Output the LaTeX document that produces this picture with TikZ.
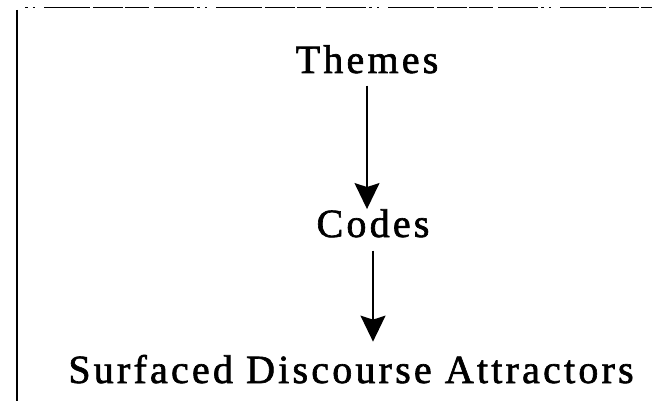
\documentclass[tikz,border=0pt]{standalone}
\usepackage{fontspec}
\setmainfont{Liberation Serif}[LetterSpace=8, FakeBold=1.6]
\usetikzlibrary{arrows.meta}

\begin{document}
\begin{tikzpicture}
% Coding levels: themes, codes, attractors
\def\pxsz{1pt}
\providecommand{\flowLineWidth}{1.4pt}
\providecommand{\frameLineWidth}{1.1pt}
\tikzset{
  level text/.style={font=\fontsize{40}{44}\selectfont, inner sep=0pt, anchor=base},
  flow arrow/.style={line width=\flowLineWidth, -{Stealth[length=26pt, width=25pt, inset=4pt]}},
  broken edge/.style={line width=0.9pt, dash pattern=on 3pt off 5pt on 2pt off 9pt on 46pt off 3pt on 30pt off 2pt on 24pt off 5pt on 40pt off 3pt}
}
\begin{scope}[x=\pxsz, y=\pxsz]
  \useasboundingbox (0,0) rectangle (652,-401);
  % Frame: left edge and broken top edge
  \draw[line width=\frameLineWidth] (17,-10) -- (17,-401);
  \draw[broken edge] (25,-7) -- (652,-7);
  % Levels
  \node[level text] (themes) at (367,-73) {Themes};
  \node[level text] (codes) at (373,-237) {Codes};
  \node[level text] (attractors) at (351,-383) {Surfaced Discourse Attractors};
  % Arrows
  \draw[flow arrow, shorten <=12pt] (themes.south) -- (themes.south |- codes.north);
  \draw[flow arrow, shorten <=13pt, shorten >=13pt] (codes.south) -- (codes.south |- attractors.north);
\end{scope}
\end{tikzpicture}
\end{document}
